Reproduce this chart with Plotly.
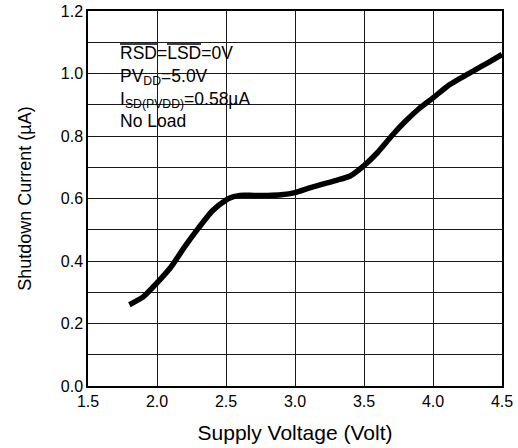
"""Shutdown current vs supply voltage chart."""
import plotly.graph_objects as go

# Curve
supply_voltage = [1.8, 1.9, 2.0, 2.1, 2.2, 2.3, 2.4, 2.5, 2.55, 2.6, 2.7, 2.8, 2.9,
                  3.0, 3.1, 3.2, 3.3, 3.4, 3.5, 3.6, 3.7, 3.8, 3.9, 4.0, 4.1, 4.2,
                  4.3, 4.4, 4.5]
shutdown_current = [0.26, 0.285, 0.33, 0.38, 0.445, 0.505, 0.56, 0.595, 0.605, 0.61,
                    0.61, 0.61, 0.612, 0.619, 0.633, 0.646, 0.658, 0.672, 0.705,
                    0.748, 0.80, 0.847, 0.888, 0.922, 0.958, 0.985, 1.01, 1.035,
                    1.061]

x_ticks = [1.5, 2.0, 2.5, 3.0, 3.5, 4.0, 4.5]
x_labels = ["1.5", "2.0", "2.5", "3.0", "3.5", "4.0", "4.5"]
y_ticks = [0.0, 0.2, 0.4, 0.6, 0.8, 1.0, 1.2]
y_labels = ["0.0", "0.2", "0.4", "0.6", "0.8", "1.0", "1.2"]

note_lines = [
    "RSD=LSD=0V",
    "PV<sub>DD</sub>=5.0V",
    "I<sub>SD(PVDD)</sub>=0.58µA",
    "No Load",
]

font_family = "Liberation Sans, Arial, sans-serif"

# plot area in pixels (used only to place the note box)
PL, PR, PT, PB = 88, 502, 11, 386


def px_x(p):
    return (p - PL) / (PR - PL)


def px_y(p):
    return (PB - p) / (PB - PT)


fig = go.Figure()

fig.add_trace(go.Scatter(
    x=supply_voltage,
    y=shutdown_current,
    mode="lines",
    line=dict(color="black", width=5.5, shape="spline", smoothing=0.6),
    showlegend=False,
    hoverinfo="skip",
))

# White box behind the conditions text hides the grid
fig.add_shape(
    type="rect", xref="paper", yref="paper",
    x0=px_x(110), x1=px_x(273), y0=px_y(135), y1=px_y(24),
    fillcolor="white", line=dict(width=0), layer="between",
)

fig.add_annotation(
    xref="paper", yref="paper",
    x=px_x(119), y=px_y(42),
    xanchor="left", yanchor="top",
    text="<br>".join(note_lines),
    showarrow=False,
    align="left",
    borderpad=0,
    font=dict(family=font_family, size=17.5, color="black"),
)

# overlines for the active-low RSD / LSD pins
for x0, x1 in [(120, 157), (167, 201)]:
    fig.add_shape(
        type="line", xref="paper", yref="paper",
        x0=px_x(x0), x1=px_x(x1), y0=px_y(44), y1=px_y(44),
        line=dict(color="black", width=1.3), layer="above",
    )

axis_common = dict(
    showline=True,
    linecolor="black",
    linewidth=1.5,
    mirror=True,
    showgrid=True,
    gridcolor="#1a1a1a",
    gridwidth=1,
    ticks="",
    zeroline=False,
    automargin=False,
    tickfont=dict(family=font_family, size=16, color="black"),
)

fig.update_xaxes(
    range=[1.5, 4.5],
    tickvals=x_ticks,
    ticktext=x_labels,
    title=dict(text="Supply Voltage (Volt)", standoff=16,
               font=dict(family=font_family, size=21, color="black")),
    **axis_common,
)
fig.update_yaxes(
    range=[0, 1.2],
    tickvals=y_ticks,
    ticktext=y_labels,
    minor=dict(dtick=0.1, showgrid=True, gridcolor="#1a1a1a", gridwidth=1, ticks=""),
    title=dict(text="Shutdown Current (µA)", standoff=24,
               font=dict(family=font_family, size=18, color="black")),
    **axis_common,
)

fig.update_layout(
    width=518,
    height=448,
    margin=dict(l=PL, r=518 - PR, t=PT, b=448 - PB),
    paper_bgcolor="white",
    plot_bgcolor="white",
    font=dict(family=font_family, color="black"),
)

# drop the default page margin so the figure sits at the window's corner
fig.write_html(
    "out.html",
    config={"displayModeBar": False},
    post_script="document.body.style.margin='0';",
)
